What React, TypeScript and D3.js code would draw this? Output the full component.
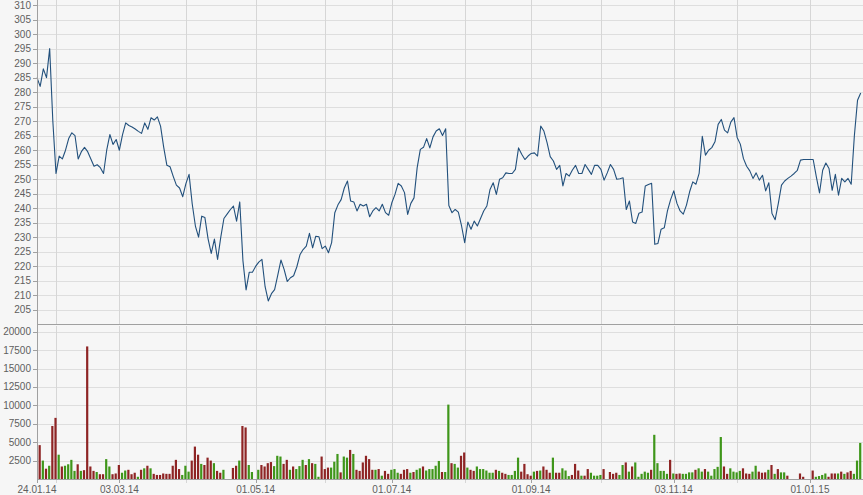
import React from 'react';
import * as d3 from 'd3';

// ---- data ----
const START_DATE = '2014-01-24';
const POINT_COUNT = 261; // weekdays 24.01.14 .. 23.01.15

const prices: number[] = [
  285, 282, 288, 285, 295, 270, 252, 258, 257, 260,
  264, 266, 265, 257, 259.5, 261, 259.5, 257, 254.5, 255,
  254, 252, 260, 265.4, 262, 263.7, 260, 265.4, 269.4, 268.5,
  268, 267.3, 266.5, 265.8, 269.4, 267.2, 271.2, 270.4, 271.5, 268.3,
  261, 254.8, 254.3, 251, 248, 247, 244, 248.5, 251.7, 241.5,
  233.9, 230.1, 237.3, 236.8, 229.5, 224.5, 229.4, 222.4, 230, 236.5,
  238, 239.5, 240.8, 235.6, 242.2, 222, 211.9, 218, 218, 220,
  221.5, 222.4, 213, 208.1, 210.6, 212, 217, 222.2, 219, 214.8,
  216.1, 216.8, 219.8, 224, 225.8, 227, 231.4, 226.4, 230.4, 230.2,
  226.1, 227, 224.7, 228.2, 238.5, 241.2, 243, 247, 249.4, 242.5,
  242.2, 239.1, 241.4, 240.8, 241.4, 237.1, 239.1, 240.2, 239.1, 241.4,
  238.5, 237.6, 241.9, 244.8, 248.6, 247.7, 245.4, 237.9, 241.7, 243.6,
  254, 260.3, 261, 264, 260.8, 264.6, 266.6, 267.4, 265.1, 267.4,
  241, 238.5, 239.6, 238.7, 234, 228.2, 235.3, 232.8, 235.6, 233.9,
  236.5, 239.1, 240.8, 246.5, 248.8, 244.8, 250, 250.5, 252.2, 252,
  252, 253.4, 260.8, 258.6, 256.8, 258, 258.9, 259.1, 258, 268.3,
  266.6, 262.6, 257.8, 256.3, 253.4, 254.8, 247.7, 252, 251.1, 253.2,
  254.8, 252, 252, 255.1, 253.4, 251.7, 254.8, 254.8, 253.4, 249.7,
  252.2, 255.1, 253.4, 250, 250.2, 250.5, 239.6, 242.5, 235.3, 234.8,
  238.3, 238.7, 247.7, 248.2, 248.6, 227.6, 227.9, 232.8, 233.3, 239.1,
  243, 246, 241.7, 239.1, 238, 241.1, 245.7, 249.1, 248.3, 252,
  264.8, 258.3, 260, 260.9, 262.9, 268.9, 270.6, 266.9, 266, 269.7,
  271.2, 264.4, 262.1, 257.1, 254.5, 252.9, 250.3, 252.2, 249.7, 251.4,
  246, 248.8, 238.2, 236.1, 241.7, 248, 249.4, 250.3, 251.1, 252,
  253.1, 256.6, 256.8, 256.8, 256.8, 256.8, 250.8, 245.3, 253.1, 255.6,
  253.7, 246.2, 251.7, 244.5, 250.3, 249.1, 250.3, 248.3, 265, 277.2, 279.7,
];

const volumes: number[] = [
  0, 4600, 2500, 1400, 1800, 7200, 8300, 3300, 1700, 1800,
  2000, 2600, 1100, 2000, 1100, 1200, 18000, 1700, 1100, 950,
  650, 650, 2700, 1700, 650, 750, 1900, 850, 1150, 1250,
  650, 850, 300, 1250, 1450, 1800, 1450, 700, 550, 550,
  750, 700, 700, 1800, 2600, 1350, 550, 1800, 1000, 2500,
  4400, 3300, 2050, 1900, 2900, 2500, 2150, 1100, 850, 1250,
  0, 0, 1500, 1800, 2500, 7200, 7000, 1900, 950, 0,
  1250, 1900, 1700, 2150, 2300, 1750, 3150, 3050, 2050, 2600,
  1250, 1700, 1350, 1750, 2600, 1900, 2700, 2150, 2050, 300,
  3050, 1350, 1550, 1550, 2350, 3400, 900, 3050, 2900, 3950,
  3400, 1250, 1100, 2250, 3150, 2700, 1250, 1250, 1350, 450,
  1100, 700, 1250, 1350, 850, 700, 1250, 1350, 850, 950,
  1250, 1450, 1700, 1150, 1350, 1350, 1800, 2450, 950, 950,
  10100, 2150, 2050, 1550, 3150, 3600, 1550, 1250, 1100, 1700,
  1350, 1350, 1150, 850, 850, 1250, 1100, 850, 700, 550,
  550, 1100, 2900, 1000, 2050, 650, 450, 1000, 1100, 1150,
  1700, 1250, 850, 2900, 850, 850, 1450, 1150, 400, 550,
  2050, 1150, 450, 450, 1350, 850, 450, 450, 550, 1350,
  0, 950, 700, 850, 550, 1900, 2250, 1000, 1700, 2250,
  300, 700, 1000, 850, 1250, 6000, 2150, 1100, 1100, 700,
  2600, 750, 700, 750, 700, 700, 900, 900, 1250, 1450,
  1000, 1350, 1000, 450, 1350, 1650, 5700, 1700, 700, 1450,
  1000, 900, 1100, 1450, 750, 700, 1000, 1800, 1000, 850,
  900, 1250, 1900, 700, 1350, 900, 900, 450, 0, 0,
  0, 750, 300, 0, 0, 1150, 300, 400, 550, 750,
  300, 750, 750, 750, 1000, 700, 900, 1100, 700, 2500, 4900,
];

// r = falling (red), g = rising (green), - = no volume
const volumeDirection =
  '-rgrgrrgrg' + 'gggrgrrrrg' + 'rrggrrrggr' + 'rrgrgrgrrr' + 'rrrrrrgggr' +
  'rrgrrrgrrg' + '--rrgrrgg-' + 'grrrrgggrr' + 'grgggrgrgg' + 'rrrgggrggr' +
  'grrrrrrgrg' + 'rrgggrrrgr' + 'ggrgggggrg' + 'grggrrgrrg' + 'gggggrgrrg' +
  'gggrrrrgrg' + 'rrrgrrgggr' + 'rrgrrggggr' + '-rrrggrgrg' + 'ggggrggggg' +
  'rgrrggggrg' + 'grgggggrrg' + 'gggrrrggrr' + 'rgrgrggr--' + '-rr--rgggg' +
  'rrrgrgrrggg';

const priceTicks = [205, 210, 215, 220, 225, 230, 235, 240, 245, 250, 255, 260, 265, 270, 275, 280, 285, 290, 295, 300, 305, 310];
const volumeTicks = [2500, 5000, 7500, 10000, 12500, 15000, 17500, 20000];
const gridDates = ['2014-02-03', '2014-03-03', '2014-04-01', '2014-05-01', '2014-06-02', '2014-07-01', '2014-08-01', '2014-09-01', '2014-10-01', '2014-11-03', '2014-12-01', '2015-01-01'];
const labelDates = ['2014-01-24', '2014-03-03', '2014-05-01', '2014-07-01', '2014-09-01', '2014-11-03', '2015-01-01'];

// ---- helpers ----
function weekdayKeys(start: string, count: number): string[] {
  const out: string[] = [];
  const d = new Date(start + 'T00:00:00Z');
  while (out.length < count) {
    const wd = d.getUTCDay();
    if (wd !== 0 && wd !== 6) out.push(d.toISOString().slice(0, 10));
    d.setUTCDate(d.getUTCDate() + 1);
  }
  return out;
}
const fmt = (k: string) => `${k.slice(8, 10)}.${k.slice(5, 7)}.${k.slice(2, 4)}`;

const W = 863;
const H = 495;
const AX = 37;
const FONT = '"Liberation Sans", Arial, sans-serif';
const TXT = '#5e5e5e';
const GRID = '#dedede';
const VGRID = '#d6d6d6';
const AXIS = '#a0a0a0';
const RED = '#8e2424';
const GREEN = '#3f961a';
const LINE = '#22507c';

export default function App() {
  const keys = weekdayKeys(START_DATE, POINT_COUNT);
  const x = d3.scaleLinear().domain([0, POINT_COUNT - 1]).range([AX, 860.7]);
  const yP = d3.scaleLinear().domain([200, 310]).range([324.5, 5]);
  const yV = d3.scaleLinear().domain([0, 20000]).range([479, 331.7]);
  const px = (v: number) => Math.round(v) + 0.5;

  const line = d3
    .line<number>()
    .x((_, i) => x(i))
    .y((d) => yP(d));

  const gridX = gridDates.map((k) => x(keys.indexOf(k)));
  const labels = labelDates.map((k) => ({ x: x(keys.indexOf(k)), t: fmt(k) }));

  return (
    <svg
      width={W}
      height={H}
      style={{ position: 'absolute', left: 0, top: 0, background: '#f6f6f6' }}
      fontFamily={FONT}
    >
      <rect x={0} y={0} width={W} height={H} fill="#f6f6f6" />
      {/* price grid */}
      {priceTicks.map((t) => (
        <line key={'pg' + t} x1={AX} x2={W} y1={px(yP(t))} y2={px(yP(t))} stroke={GRID} strokeWidth={1} />
      ))}
      {/* volume grid */}
      {volumeTicks.map((t) => (
        <line key={'vg' + t} x1={AX} x2={W} y1={px(yV(t))} y2={px(yV(t))} stroke={GRID} strokeWidth={1} />
      ))}
      {/* vertical grid */}
      {gridX.map((gx, i) => (
        <g key={'vx' + i}>
          <line x1={px(gx)} x2={px(gx)} y1={0} y2={324} stroke={VGRID} strokeWidth={1} />
          <line x1={px(gx)} x2={px(gx)} y1={326} y2={483} stroke={VGRID} strokeWidth={1} />
        </g>
      ))}
      {/* volume bars */}
      {volumes.map((v, i) =>
        v > 0 && volumeDirection[i] !== '-' ? (
          <rect
            key={'b' + i}
            x={x(i) - 1.6}
            y={yV(v)}
            width={2.2}
            height={yV(0) - yV(v)}
            fill={volumeDirection[i] === 'r' ? RED : GREEN}
          />
        ) : null
      )}
      {/* price line */}
      <path d={line(prices) || ''} fill="none" stroke={LINE} strokeWidth={1.1} strokeLinejoin="round" />
      {/* panel separator and axes */}
      <line x1={AX} x2={W} y1={324.5} y2={324.5} stroke={AXIS} strokeWidth={1} />
      <line x1={AX} x2={W} y1={479.5} y2={479.5} stroke={AXIS} strokeWidth={1} />
      <line x1={AX + 0.5} x2={AX + 0.5} y1={0} y2={480} stroke={AXIS} strokeWidth={1} />
      {/* price axis ticks */}
      {priceTicks.map((t) => (
        <g key={'pt' + t}>
          <line x1={AX - 4} x2={AX} y1={px(yP(t))} y2={px(yP(t))} stroke={AXIS} />
          <text x={31} y={yP(t)} dy="0.35em" textAnchor="end" fontSize={10} fill={TXT}>
            {t}
          </text>
        </g>
      ))}
      {/* volume axis ticks */}
      {volumeTicks.map((t) => (
        <g key={'vt' + t}>
          <line x1={AX - 4} x2={AX} y1={px(yV(t))} y2={px(yV(t))} stroke={AXIS} />
          <text x={31} y={yV(t)} dy="0.35em" textAnchor="end" fontSize={10} fill={TXT}>
            {t}
          </text>
        </g>
      ))}
      {/* x labels */}
      {labels.map((l, i) => (
        <g key={'xl' + i}>
          <line x1={px(l.x)} x2={px(l.x)} y1={479} y2={483} stroke={AXIS} />
          <text x={l.x} y={489} dy="0.35em" textAnchor="middle" fontSize={10} fill={TXT}>
            {l.t}
          </text>
        </g>
      ))}
    </svg>
  );
}
